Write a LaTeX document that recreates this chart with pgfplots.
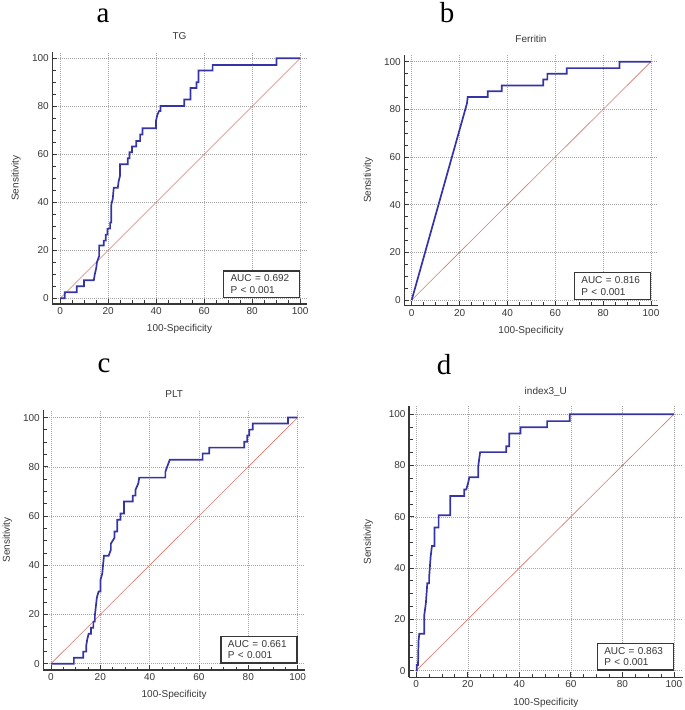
\documentclass[border=0pt]{standalone}
\usepackage{fontspec}
\setmainfont{Liberation Sans}
\newfontfamily\letterfont{Liberation Serif}
\usepackage{pgfplots}
\pgfplotsset{compat=1.18}
\definecolor{roccol}{RGB}{52,52,168}
\definecolor{diag}{RGB}{215,120,110}
\definecolor{axc}{RGB}{55,55,55}
\tikzset{
  aucbox/.style={draw=axc, line width=1.3pt, fill=white, anchor=south east, align=left,
    text width=62pt, inner xsep=7pt, inner ysep=4pt, font=\fontsize{10}{11.5}\selectfont, text=axc},
}
\pgfplotsset{
  rocax/.style={
    scale only axis,
    axis x line*=bottom, axis y line*=left,
    axis line style={-, line width=1.3pt, color=axc},
    xtick={0,20,...,100}, ytick={0,20,...,100},
    minor tick num=3,
    tick align=inside,
    major tick length=5pt, minor tick length=3.5pt,
    tick style={line width=0.8pt, color=axc},
    grid=major,
    major grid style={line width=0.45pt, color=black!35, dash pattern=on 1pt off 1pt},
    tick label style={font=\fontsize{10}{12}\selectfont, color=axc},
    /pgf/number format/assume math mode=true,
    label style={font=\fontsize{10}{12}\selectfont, color=axc},
    title style={font=\fontsize{10}{12}\selectfont, color=axc, anchor=center},
    xlabel={100-Specificity}, ylabel={Sensitivity},
    enlargelimits=false,
  },
  rocline/.style={color=roccol, line width=1.7pt},
  dg/.style={color=diag, line width=0.6pt},
}
\begin{document}
\begin{tikzpicture}
\path[use as bounding box] (0pt,0pt) rectangle (685pt,710pt);
% panel letters
\node[font=\letterfont\fontsize{29}{31}\selectfont, anchor=base] at (103pt,687pt) {a};
\node[font=\letterfont\fontsize{29}{31}\selectfont, anchor=base] at (447pt,687pt) {b};
\node[font=\letterfont\fontsize{29}{31}\selectfont, anchor=base] at (104pt,337pt) {c};
\node[font=\letterfont\fontsize{29}{31}\selectfont, anchor=base] at (444pt,335pt) {d};

% a: TG
\begin{axis}[rocax, at={(52.3pt,406pt)}, anchor=south west,
  width=254.4pt, height=251.5pt,
  xmin=-3.3, xmax=102.7, ymin=-2.4, ymax=102.4,
  title={TG}, title style={at={(axis description cs:0.5,1.04)}},
  xlabel style={at={(axis description cs:0.5,-0.0994)}, anchor=center},
  ylabel style={at={(axis description cs:-0.1427,0.5)}, anchor=center}]
\addplot[dg] coordinates {(0,0)(100,100)};
\addplot[rocline] coordinates {(0,0)(1.9,0)(1.9,2.5)(6.9,2.5)(6.9,5)(9.9,5)(9.9,7.5)(14,7.5)(14.4,10)(15,12.5)(15.3,15)(16.2,17.5)(16.2,22)(18.1,22)(18.1,24)(19,24)(19,26.5)(19.7,26.5)(19.7,29)(20.8,29)(20.8,31.5)(21.3,31.5)(21.3,39)(21.9,41.5)(22.3,46)(24,46)(24.3,48.5)(24.9,51)(24.9,55.8)(28.1,55.8)(28.1,58.3)(28.9,58.3)(28.9,60.8)(29.9,60.8)(29.9,63.2)(31.7,63.2)(31.7,65.5)(33.3,65.5)(33.3,68.2)(34.3,68.2)(34.3,70.8)(39.9,70.8)(39.9,74)(40.5,76.5)(41.2,78)(41.8,78)(41.8,80.1)(51.7,80.1)(51.7,82.8)(54.3,82.8)(54.3,87.6)(56.8,87.6)(56.8,90)(57.6,90)(57.6,94.9)(63.5,94.9)(63.5,97.2)(90.1,97.2)(90.1,100)(100,100)};
\node[aucbox] at (axis cs:100,0) {AUC = 0.692\\P < 0.001};
\end{axis}

% b: Ferritin
\begin{axis}[rocax, at={(404.3pt,404.3pt)}, anchor=south west,
  width=253.4pt, height=250.7pt,
  xmin=-3.1, xmax=102.8, ymin=-2.4, ymax=102.8,
  title={Ferritin}, title style={at={(axis description cs:0.5,1.04)}},
  xlabel style={at={(axis description cs:0.5,-0.0997)}, anchor=center},
  ylabel style={at={(axis description cs:-0.142,0.5)}, anchor=center}]
\addplot[dg] coordinates {(0,0)(100,100)};
\addplot[rocline] coordinates {(0,0)(23.1,82.5)(23.4,85.2)(31.8,85.2)(31.8,87.6)(37.6,87.6)(37.6,90)(55,90)(55,92.5)(56.7,92.5)(56.7,94.9)(64.8,94.9)(64.8,97.3)(86.8,97.3)(86.8,100)(100,100)};
\node[aucbox] at (axis cs:100,0) {AUC = 0.816\\P < 0.001};
\end{axis}

% c: PLT
\begin{axis}[rocax, at={(43.3pt,40pt)}, anchor=south west,
  width=261.7pt, height=259.8pt,
  xmin=-3.1, xmax=103, ymin=-2.56, ymax=103,
  title={PLT}, title style={at={(axis description cs:0.5,1.038)}},
  xlabel style={at={(axis description cs:0.5,-0.0962)}, anchor=center},
  ylabel style={at={(axis description cs:-0.1376,0.5)}, anchor=center}]
\addplot[dg] coordinates {(0,0)(100,100)};
\addplot[rocline] coordinates {(0,0)(9.3,0)(9.3,2.4)(13.1,2.4)(13.1,4.9)(14.3,4.9)(14.3,7.3)(14.7,9.8)(15.3,12.2)(16.2,12.2)(16.2,14.6)(17.2,14.6)(17.2,17.1)(17.8,17.1)(17.8,19.5)(18.6,26.8)(19.3,29.3)(20.1,29.3)(20.1,34.1)(20.8,36.6)(21.5,43.9)(23.4,43.9)(24.3,46.3)(24.3,48.8)(25.8,51.2)(25.8,53.7)(26.9,53.7)(26.9,58.5)(28.2,58.5)(28.2,61)(29.6,61)(29.6,65.9)(33.2,65.9)(33.2,68.3)(34.3,68.3)(34.3,70.7)(35.4,73.2)(35.8,75.6)(46.4,75.6)(46.4,78)(47.3,80.5)(48.2,82.9)(61.5,82.9)(61.5,85.4)(64.2,85.4)(64.2,87.8)(78.4,87.8)(78.4,90.2)(79.6,90.2)(79.6,92.7)(80.4,92.7)(80.4,95.1)(81.8,95.1)(81.8,97.6)(96.1,97.6)(96.1,100)(100,100)};
\node[aucbox] at (axis cs:100,0) {AUC = 0.661\\P < 0.001};
\end{axis}

% d: index3_U
\begin{axis}[rocax, at={(409pt,32.7pt)}, anchor=south west,
  width=273.7pt, height=270.8pt,
  xmin=-2.8, xmax=103.4, ymin=-2.6, ymax=103,
  title={index3\_U}, title style={at={(axis description cs:0.5,1.033)}},
  xlabel style={at={(axis description cs:0.5,-0.0938)}, anchor=center},
  ylabel style={at={(axis description cs:-0.1487,0.5)}, anchor=center}]
\addplot[dg] coordinates {(0,0)(100,100)};
\addplot[rocline] coordinates {(0,0)(0.2,0)(0.2,2.2)(0.7,2.2)(0.9,11.6)(1.2,14.4)(3.1,14.4)(3.1,21.5)(3.75,26.3)(4.3,34.1)(5,34.1)(5,36.3)(5.6,44.5)(6.1,48.6)(7.1,48.6)(7.1,55.8)(8.7,55.8)(8.7,60.6)(13.2,60.6)(13.2,68.1)(18.6,68.1)(18.6,70.6)(19.4,70.6)(20.1,73)(20.6,75.4)(24.1,75.4)(24.1,80)(24.8,85.2)(34.9,85.2)(34.9,87.5)(36.1,87.5)(36.1,92.5)(40.5,92.5)(40.5,94.9)(50.8,94.9)(50.8,97.3)(59.6,97.3)(59.6,100)(100,100)};
\node[aucbox] at (axis cs:100,0) {AUC = 0.863\\P < 0.001};
\end{axis}
\end{tikzpicture}
\end{document}
